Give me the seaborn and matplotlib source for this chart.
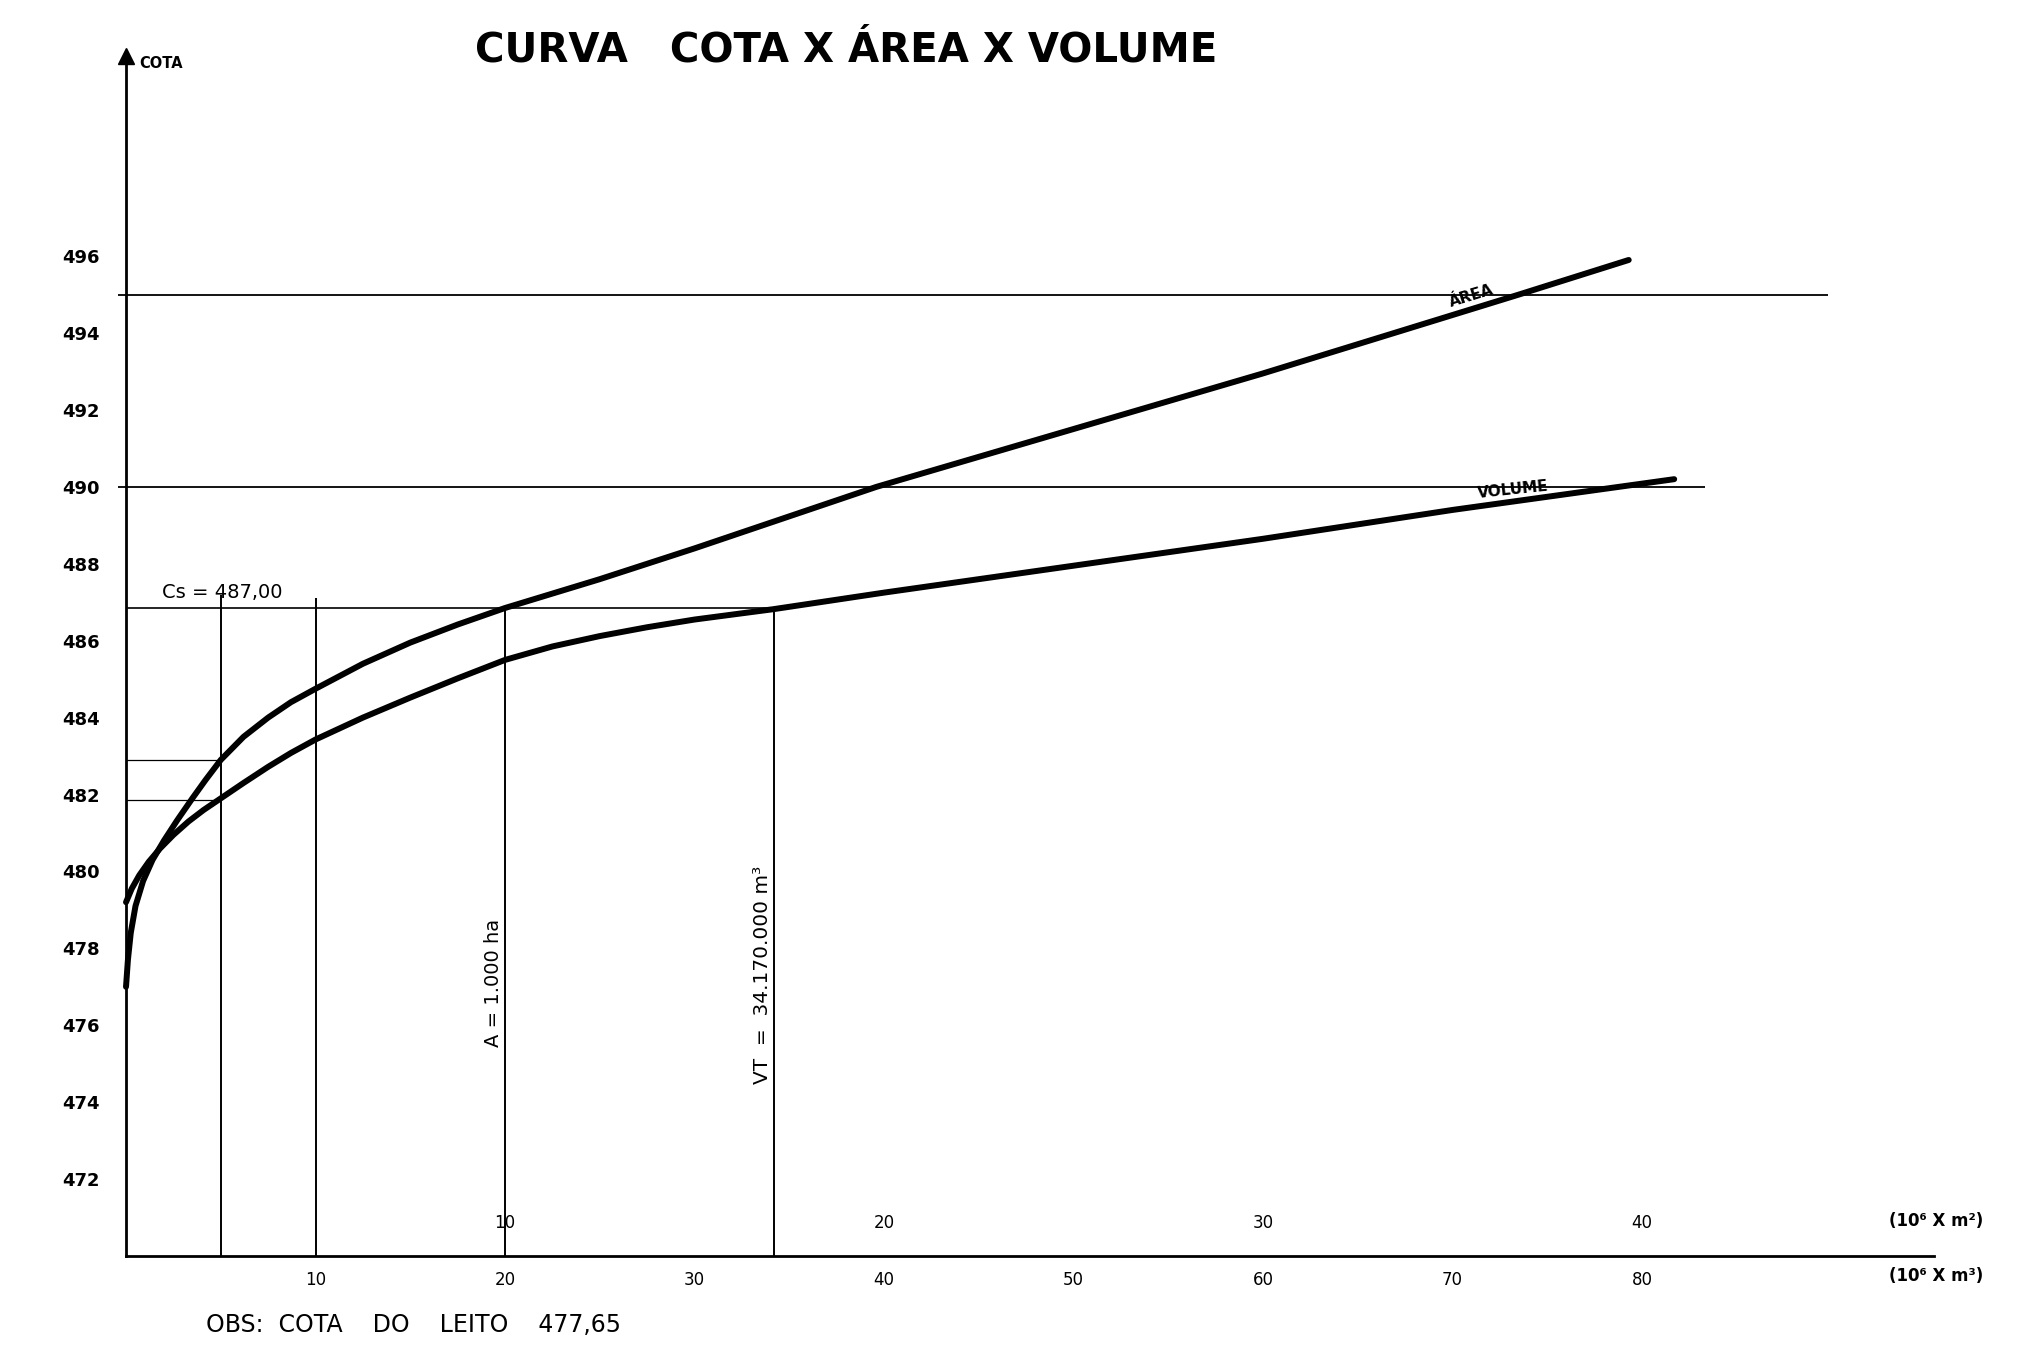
import matplotlib
matplotlib.use("Agg")
import matplotlib.pyplot as plt
import pandas as pd
import seaborn as sns

# Curva cota x área (área em 10^6 m²)
area_val = [0.0, 0.05, 0.125, 0.25, 0.45, 0.7, 1.0, 1.35, 1.75, 2.1, 2.5, 3.1, 3.75,
            4.35, 5.0, 6.25, 7.5, 8.75, 10.0, 12.5, 15.0, 19.8, 30.0, 36.75, 39.65]
area_cota = [477.0, 477.7, 478.4, 479.1, 479.75, 480.3, 480.8, 481.33, 481.9, 482.38, 482.9,
             483.5, 484.0, 484.4, 484.75, 485.4, 485.95, 486.42, 486.85, 487.6, 488.4,
             490.0, 492.95, 495.0, 495.9]

# Curva cota x volume (volume em 10^6 m³)
vol_val = [0.0, 0.3, 0.7, 1.2, 1.8, 2.5, 3.3, 4.1, 5.0, 6.2, 7.5, 8.7, 10.0, 12.5, 15.0,
           17.5, 20.0, 22.5, 25.0, 27.5, 30.0, 34.17, 40.0, 50.0, 60.0, 70.0, 81.7]
vol_cota = [479.2, 479.55, 479.9, 480.25, 480.6, 480.95, 481.3, 481.6, 481.9, 482.3, 482.72,
            483.08, 483.43, 484.0, 484.52, 485.02, 485.5, 485.85, 486.12, 486.35, 486.55,
            486.82, 487.25, 487.95, 488.65, 489.4, 490.2]

# 1 unidade de área ocupa 2 unidades da escala de volume
AREA_TO_VOL = 2.0

cota_ticks = [472, 474, 476, 478, 480, 482, 484, 486, 488, 490, 492, 494, 496]
vol_ticks = [10, 20, 30, 40, 50, 60, 70, 80]
area_ticks = [10, 20, 30, 40]

# linhas de referência (cota, extensão em x)
ref_cotas = [495.0, 490.0]
ref_ends = [89.8, 83.3]
cs_cota = 486.85
vt_vol = 34.17
a_vol = 10.0 * AREA_TO_VOL
guide_x = [5.0, 10.0, a_vol, vt_vol]
guide_top = [487.2, 487.1, cs_cota, cs_cota]
short_cotas = [482.9, 481.85]

area_df = pd.DataFrame({"x": [a * AREA_TO_VOL for a in area_val], "cota": area_cota})
vol_df = pd.DataFrame({"x": vol_val, "cota": vol_cota})

sns.set_style("white")
plt.rcParams["font.family"] = ["DejaVu Sans"]
plt.rcParams["text.color"] = "black"
plt.rcParams["xtick.color"] = "black"
plt.rcParams["ytick.color"] = "black"
plt.rcParams["axes.edgecolor"] = "black"

fig = plt.figure(figsize=(20.35, 13.66), dpi=100)
ax = fig.add_axes([0, 0, 1, 1])
ax.set_xlim(-6.65, 100.74)
ax.set_ylim(467.14, 502.66)
ax.patch.set_alpha(0)

# curvas
sns.lineplot(data=area_df, x="x", y="cota", sort=False, estimator=None,
             color="black", linewidth=4.3, ax=ax)
sns.lineplot(data=vol_df, x="x", y="cota", sort=False, estimator=None,
             color="black", linewidth=4.3, ax=ax)

# linhas auxiliares
ax.hlines(ref_cotas, -0.4, ref_ends, color="black", linewidth=1.3)
ax.hlines(cs_cota, 0, vt_vol, color="black", linewidth=1.2)
ax.hlines(short_cotas, 0, 5.0, color="black", linewidth=0.9)
ax.vlines(guide_x, 470, guide_top, color="black", linewidth=1.4)

# eixos
for side in ["top", "right"]:
    ax.spines[side].set_visible(False)
ax.spines["left"].set_position(("data", 0))
ax.spines["bottom"].set_position(("data", 470))
ax.spines["left"].set_bounds(470, 501.0)
ax.spines["bottom"].set_bounds(0, 95.4)
ax.spines["left"].set_linewidth(2.0)
ax.spines["bottom"].set_linewidth(2.0)
ax.plot([0], [501.2], marker="^", color="black", markersize=11, clip_on=False)

ax.set_yticks(cota_ticks)
ax.set_yticklabels([str(t) for t in cota_ticks], fontsize=13, fontweight="bold")
ax.tick_params(axis="y", direction="out", length=7, width=1.2, pad=12)
ax.set_xticks(vol_ticks)
ax.set_xticklabels([str(t) for t in vol_ticks], fontsize=12)
ax.tick_params(axis="x", direction="inout", length=6, width=1.2, pad=8)
ax.set_xlabel("")
ax.set_ylabel("")

# escala de área sobre o eixo
for t in area_ticks:
    ax.text(t * AREA_TO_VOL, 470.85, str(t), ha="center", va="center", fontsize=12)
ax.text(95.5, 470.9, "(10⁶ X m²)", ha="center", va="center", fontsize=12, fontweight="bold")
ax.text(95.5, 469.47, "(10⁶ X m³)", ha="center", va="center", fontsize=12, fontweight="bold")

# textos
ax.text(38.0, 501.35, "CURVA   COTA X ÁREA X VOLUME", ha="center", va="center",
        fontsize=29, fontweight="bold")
ax.text(0.7, 501.0, "COTA", ha="left", va="center", fontsize=10.5, fontweight="bold")
ax.text(1.9, 487.0, "Cs = 487,00", ha="left", va="bottom", fontsize=14)
ax.text(a_vol - 0.6, 477.1, "A = 1.000 ha", ha="center", va="center",
        rotation=90, fontsize=14)
ax.text(vt_vol - 0.6, 477.3, "VT  =  34.170.000 m³", ha="center", va="center",
        rotation=90, fontsize=14.5)
ax.text(71.0, 494.95, "ÁREA", ha="center", va="center", rotation=17,
        fontsize=11, fontweight="bold")
ax.text(73.2, 489.92, "VOLUME", ha="center", va="center", rotation=6,
        fontsize=11, fontweight="bold")
ax.text(4.2, 468.2, "OBS:  COTA    DO    LEITO    477,65", ha="left", va="center",
        fontsize=17)

fig.savefig("out.png", dpi=100, facecolor="white")
